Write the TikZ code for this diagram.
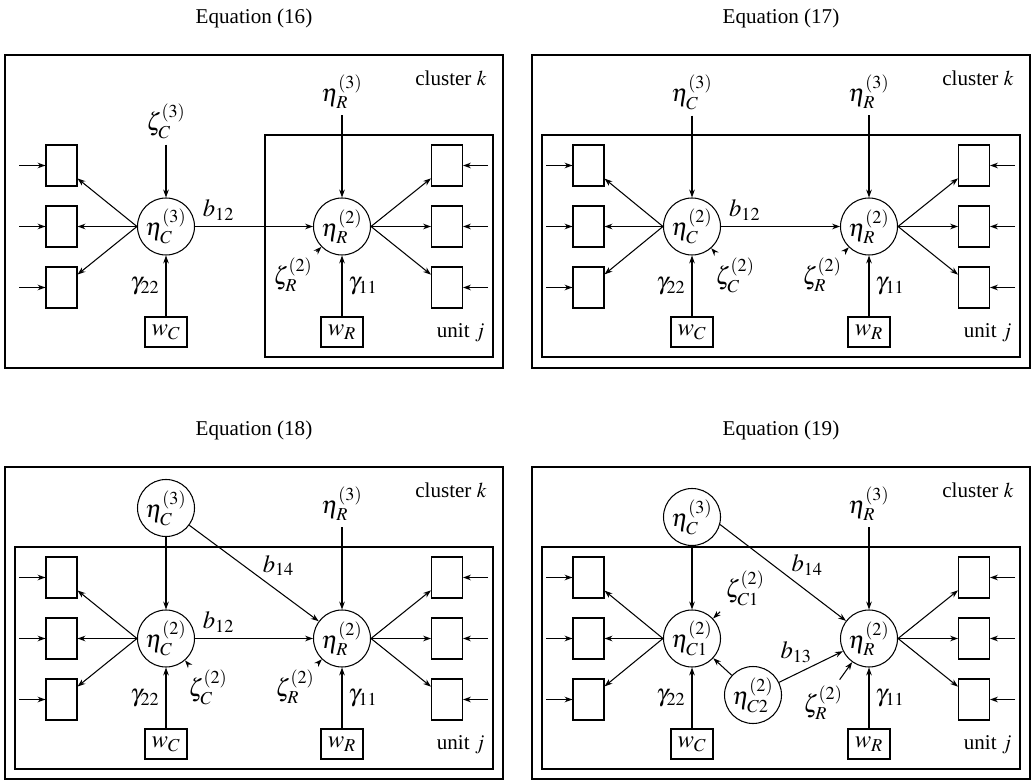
\documentclass[tikz,border=0pt]{standalone}
\usepackage{mathptmx}
\usepackage[no-math]{fontspec}
\setmainfont{Liberation Serif}
\usetikzlibrary{arrows.meta, positioning}

\begin{document}
\begin{tikzpicture}[
    font=\fontsize{14}{17}\selectfont,
    line width=0.6pt,
    ind/.style={draw, minimum width=6.2mm, minimum height=8.2mm, inner sep=0pt},
    lat/.style={draw, circle, minimum size=11.4mm, inner sep=0pt},
    cov/.style={draw, minimum width=8.4mm, minimum height=6mm, inner sep=1pt},
    txt/.style={font=\fontsize{12}{14}\selectfont},
    tag/.style={txt, anchor=east, inner sep=0pt},
    arr/.style={-{Stealth[length=4.5pt, width=3.2pt]}}
]
\useasboundingbox (0,0) rectangle (20.62,-15.6);

% Equation (16)
\begin{scope}[shift={(0.1,-1.1)}, name prefix=p1-]
\draw (0,0) rectangle (9.96,-6.26);
\draw (5.2,-1.6) rectangle (9.76,-6.04);
\node[txt] (title) at (4.98,0.74) {Equation (16)};
\node[tag] (clus) at (9.64,-0.46) {cluster $k$};
\node[tag] (unit) at (9.6,-5.56) {unit $j$};
\node[lat] (etaC) at (3.22,-3.43) {$\eta_C^{(3)}$};
\node[lat] (etaR) at (6.74,-3.43) {$\eta_R^{(2)}$};
\node (zetaC) at (3.22,-1.32) {$\zeta_C^{(3)}$};
\node (etaR3) at (6.74,-0.74) {$\eta_R^{(3)}$};
\node (zetaR) at (5.76,-4.4) {$\zeta_R^{(2)}$};
\node[cov] (wC) at (3.22,-5.54) {$w_C$};
\node[cov] (wR) at (6.74,-5.54) {$w_R$};
\foreach \i/\y in {1/-2.21, 2/-3.43, 3/-4.65} {
  \node[ind] (l\i) at (1.13,\y) {};
  \node[ind] (r\i) at (8.84,\y) {};
  \coordinate (el\i) at (0.28,\y);
  \coordinate (er\i) at (9.66,\y);
  \draw[arr] (el\i) -- (l\i);
  \draw[arr] (er\i) -- (r\i);
  \draw[arr] (etaC.west) -- (l\i);
  \draw[arr] (etaR.east) -- (r\i);
}
\draw[arr] (zetaC) -- (etaC);
\draw[arr] (etaR3) -- (etaR);
\draw[arr] (zetaR) -- (etaR);
\draw[arr] (etaC) -- node[above, pos=0.2] (b12) {$b_{12}$} (etaR);
\draw[arr] (wC) -- node[left] (g22) {$\gamma_{22}$} (etaC);
\draw[arr] (wR) -- node[right] (g11) {$\gamma_{11}$} (etaR);
\end{scope}

% Equation (17)
\begin{scope}[shift={(10.64,-1.1)}, name prefix=p2-]
\draw (0,0) rectangle (9.96,-6.26);
\draw (0.2,-1.6) rectangle (9.76,-6.04);
\node[txt] (title) at (4.98,0.74) {Equation (17)};
\node[tag] (clus) at (9.64,-0.46) {cluster $k$};
\node[tag] (unit) at (9.6,-5.56) {unit $j$};
\node[lat] (etaC) at (3.2,-3.43) {$\eta_C^{(2)}$};
\node[lat] (etaR) at (6.74,-3.43) {$\eta_R^{(2)}$};
\node (etaC3) at (3.2,-0.74) {$\eta_C^{(3)}$};
\node (etaR3) at (6.74,-0.74) {$\eta_R^{(3)}$};
\node (zetaC) at (4.06,-4.4) {$\zeta_C^{(2)}$};
\node (zetaR) at (5.8,-4.4) {$\zeta_R^{(2)}$};
\node[cov] (wC) at (3.2,-5.54) {$w_C$};
\node[cov] (wR) at (6.74,-5.54) {$w_R$};
\foreach \i/\y in {1/-2.21, 2/-3.43, 3/-4.65} {
  \node[ind] (l\i) at (1.13,\y) {};
  \node[ind] (r\i) at (8.84,\y) {};
  \coordinate (el\i) at (0.28,\y);
  \coordinate (er\i) at (9.66,\y);
  \draw[arr] (el\i) -- (l\i);
  \draw[arr] (er\i) -- (r\i);
  \draw[arr] (etaC.west) -- (l\i);
  \draw[arr] (etaR.east) -- (r\i);
}
\draw[arr] (etaC3) -- (etaC);
\draw[arr] (etaR3) -- (etaR);
\draw[arr] (zetaC) -- (etaC);
\draw[arr] (zetaR) -- (etaR);
\draw[arr] (etaC) -- node[above, pos=0.2] (b12) {$b_{12}$} (etaR);
\draw[arr] (wC) -- node[left] (g22) {$\gamma_{22}$} (etaC);
\draw[arr] (wR) -- node[right] (g11) {$\gamma_{11}$} (etaR);
\end{scope}

% Equation (18)
\begin{scope}[shift={(0.1,-9.34)}, name prefix=p3-]
\draw (0,0) rectangle (9.96,-6.24);
\draw (0.2,-1.6) rectangle (9.76,-6.04);
\node[txt] (title) at (4.98,0.74) {Equation (18)};
\node[tag] (clus) at (9.64,-0.46) {cluster $k$};
\node[tag] (unit) at (9.6,-5.56) {unit $j$};
\node[lat] (etaC3) at (3.22,-0.82) {$\eta_C^{(3)}$};
\node[lat] (etaC) at (3.22,-3.43) {$\eta_C^{(2)}$};
\node[lat] (etaR) at (6.74,-3.43) {$\eta_R^{(2)}$};
\node (etaR3) at (6.74,-0.74) {$\eta_R^{(3)}$};
\node (zetaC) at (4.06,-4.4) {$\zeta_C^{(2)}$};
\node (zetaR) at (5.8,-4.4) {$\zeta_R^{(2)}$};
\node[cov] (wC) at (3.22,-5.54) {$w_C$};
\node[cov] (wR) at (6.74,-5.54) {$w_R$};
\foreach \i/\y in {1/-2.21, 2/-3.43, 3/-4.65} {
  \node[ind] (l\i) at (1.13,\y) {};
  \node[ind] (r\i) at (8.84,\y) {};
  \coordinate (el\i) at (0.28,\y);
  \coordinate (er\i) at (9.66,\y);
  \draw[arr] (el\i) -- (l\i);
  \draw[arr] (er\i) -- (r\i);
  \draw[arr] (etaC.west) -- (l\i);
  \draw[arr] (etaR.east) -- (r\i);
}
\draw[arr] (etaC3) -- (etaC);
\draw[arr] (etaC3) -- node[above right, pos=0.55, inner sep=1pt] (b14) {$b_{14}$} (etaR);
\draw[arr] (etaR3) -- (etaR);
\draw[arr] (zetaC) -- (etaC);
\draw[arr] (zetaR) -- (etaR);
\draw[arr] (etaC) -- node[above, pos=0.2] (b12) {$b_{12}$} (etaR);
\draw[arr] (wC) -- node[left] (g22) {$\gamma_{22}$} (etaC);
\draw[arr] (wR) -- node[right] (g11) {$\gamma_{11}$} (etaR);
\end{scope}

% Equation (19)
\begin{scope}[shift={(10.64,-9.34)}, name prefix=p4-]
\draw (0,0) rectangle (9.96,-6.24);
\draw (0.2,-1.6) rectangle (9.76,-6.04);
\node[txt] (title) at (4.98,0.74) {Equation (19)};
\node[tag] (clus) at (9.64,-0.46) {cluster $k$};
\node[tag] (unit) at (9.6,-5.56) {unit $j$};
\node[lat] (etaC3) at (3.2,-1.0) {$\eta_C^{(3)}$};
\node[lat] (etaC) at (3.2,-3.43) {$\eta_{C1}^{(2)}$};
\node[lat] (etaC2) at (4.42,-4.56) {$\eta_{C2}^{(2)}$};
\node[lat] (etaR) at (6.74,-3.43) {$\eta_R^{(2)}$};
\node (etaR3) at (6.74,-0.74) {$\eta_R^{(3)}$};
\node (zetaC) at (4.26,-2.42) {$\zeta_{C1}^{(2)}$};
\node (zetaR) at (5.82,-4.72) {$\zeta_R^{(2)}$};
\node[cov] (wC) at (3.2,-5.54) {$w_C$};
\node[cov] (wR) at (6.74,-5.54) {$w_R$};
\foreach \i/\y in {1/-2.21, 2/-3.43, 3/-4.65} {
  \node[ind] (l\i) at (1.13,\y) {};
  \node[ind] (r\i) at (8.84,\y) {};
  \coordinate (el\i) at (0.28,\y);
  \coordinate (er\i) at (9.66,\y);
  \draw[arr] (el\i) -- (l\i);
  \draw[arr] (er\i) -- (r\i);
  \draw[arr] (etaC.west) -- (l\i);
  \draw[arr] (etaR.east) -- (r\i);
}
\draw[arr] (etaC3) -- (etaC);
\draw[arr] (etaC3.-15) -- node[above right, pos=0.55, inner sep=1pt] (b14) {$b_{14}$} (etaR);
\draw[arr] (etaC2) -- node[above left, pos=0.55, inner sep=1pt] (b13) {$b_{13}$} (etaR);
\draw[arr] (etaC2) -- (etaC);
\draw[arr] (etaR3) -- (etaR);
\draw[arr] (zetaC) -- (etaC);
\draw[arr] (zetaR) -- (etaR);
\draw[arr] (wC) -- node[left] (g22) {$\gamma_{22}$} (etaC);
\draw[arr] (wR) -- node[right] (g11) {$\gamma_{11}$} (etaR);
\end{scope}
\end{tikzpicture}
\end{document}
